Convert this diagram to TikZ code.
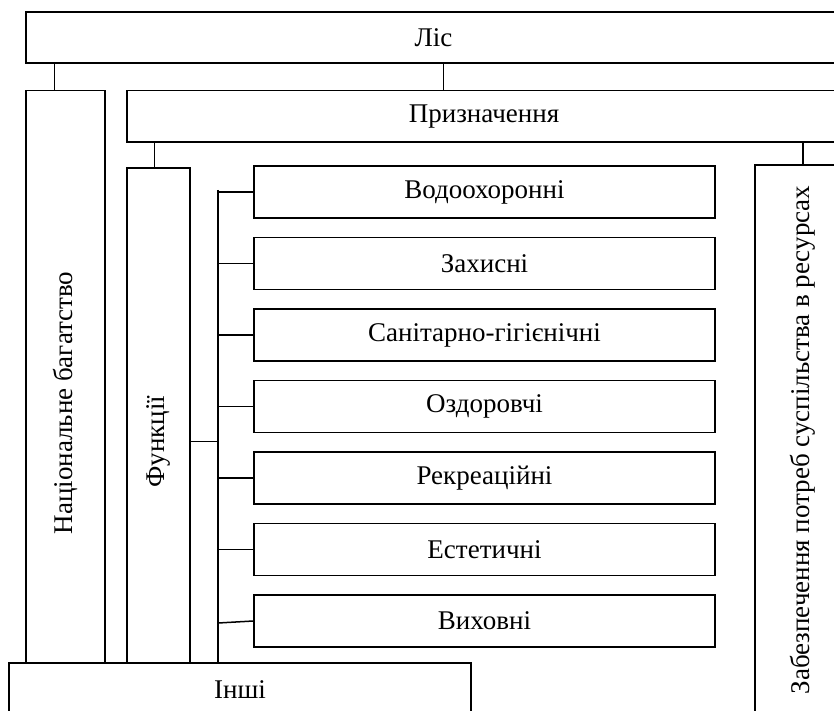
\documentclass[tikz,border=0pt]{standalone}
\usepackage{fontspec}
\usepackage{graphicx}
\setmainfont{Liberation Serif}
\begin{document}
\begin{tikzpicture}[x=1pt,y=-1pt,
  box/.style={draw, line width=1.5pt, fill=white, inner sep=0pt, font=\fontsize{27}{32}\selectfont},
  conn/.style={line width=1.5pt}]
\useasboundingbox (0,0) rectangle (834,711);
% top boxes
\node[box, minimum width=815pt, minimum height=51pt] (lis) at (433.5,37.5) {Ліс};
\node[box, minimum width=79pt, minimum height=625pt] (nat) at (65.5,403) {\rotatebox{90}{Національне багатство}};
\node[box, minimum width=714pt, minimum height=51.5pt] (priz) at (484,116.25) {Призначення};
\node[box, minimum width=63pt, minimum height=547pt] (func) at (158.5,441.5) {\rotatebox{90}{Функції}};
\node[box, minimum width=96pt, minimum height=550pt] (zab) at (803,440) {\rotatebox{90}{Забезпечення потреб суспільства в ресурсах}};
% function boxes
\node[box, minimum width=461pt, minimum height=52pt] (f1) at (484.5,192) {Водоохоронні};
\node[box, minimum width=461pt, minimum height=52pt] (f2) at (484.5,263.5) {Захисні};
\node[box, minimum width=461pt, minimum height=52pt] (f3) at (484.5,335) {Санітарно-гігієнічні};
\node[box, minimum width=461pt, minimum height=52pt] (f4) at (484.5,406.5) {Оздоровчі};
\node[box, minimum width=461pt, minimum height=52pt] (f5) at (484.5,478) {Рекреаційні};
\node[box, minimum width=461pt, minimum height=52pt] (f6) at (484.5,549.5) {Естетичні};
\node[box, minimum width=461pt, minimum height=52pt] (f7) at (484.5,621) {Виховні};
% connectors from top
\draw[conn] ([xshift=29pt]nat.north west) -- ([xshift=29pt]nat.north west |- lis.south);
\draw[conn] ([xshift=317pt]priz.north west) -- ([xshift=317pt]priz.north west |- lis.south);
\draw[conn] ([xshift=28pt]func.north west) -- ([xshift=28pt]func.north west |- priz.south);
\draw[conn] (zab.north) -- (zab.north |- priz.south);
% bus
\coordinate (bustop) at (218,190);
\node[box, minimum width=462pt, minimum height=53pt] (insh) at (240,689.5) {Інші};
\draw[conn] (bustop) -- (bustop |- insh.north);
\draw[conn] (func.east) -- (func.east -| bustop);
\draw[conn] (bustop |- f1.west) -- (f1.west);
\draw[conn] (bustop |- f2.west) -- (f2.west);
\draw[conn] (bustop |- f3.west) -- (f3.west);
\draw[conn] (bustop |- f4.west) -- (f4.west);
\draw[conn] (bustop |- f5.west) -- (f5.west);
\draw[conn] (bustop |- f6.west) -- (f6.west);
\draw[conn] ([yshift=-2pt]bustop |- f7.west) -- (f7.west);
\end{tikzpicture}
\end{document}
